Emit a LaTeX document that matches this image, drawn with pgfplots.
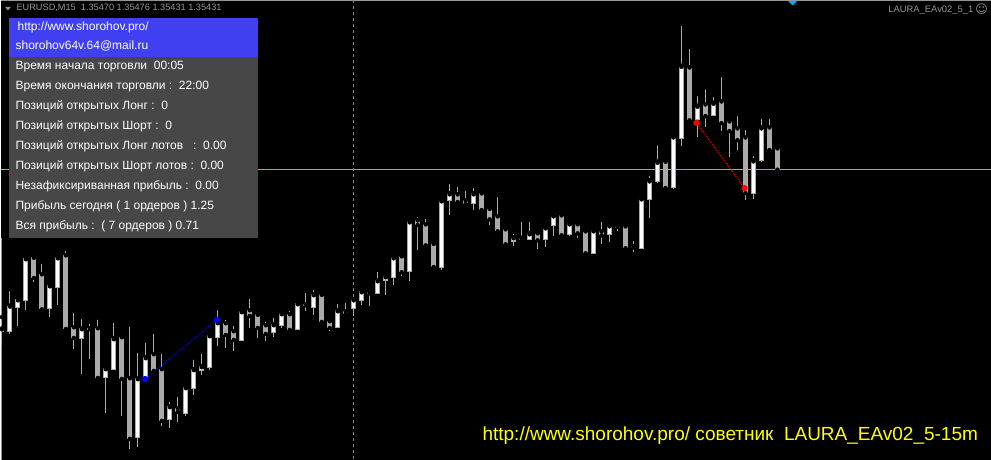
\documentclass[border=0pt]{standalone}
\usepackage{pgfplots}
\pgfplotsset{compat=1.18}
\usepackage{pgfplotstable}
\usepackage{fontspec}
\setmainfont{Liberation Sans}
\newfontfamily\dejavu{DejaVu Sans}
\definecolor{cgray}{RGB}{170,170,170}
\definecolor{panelblue}{RGB}{64,64,240}
\definecolor{panelgray}{RGB}{71,71,71}
\definecolor{bidcyan}{RGB}{40,215,220}
\definecolor{hdrgray}{RGB}{150,150,150}
\definecolor{sepgray}{RGB}{140,140,140}
\definecolor{mtyellow}{RGB}{255,255,0}

% pixel coordinates (y measured from the top)
\pgfplotstableread{
i h l o c
0 317.3 346.7 332 329
1 289.3 334.3 331.3 306.3
2 298 326.7 307.7 300
3 256.7 310 300.7 259
4 258 281.7 258 277.7
5 262 309 275 309
6 286 317.7 308.7 286
7 258 305 287.3 258
8 249 328.7 256 328.7
9 311 349 328 337.7
10 317.3 374 338.7 329
11 322 359.7 329.5 329
12 318 379.7 329 377.7
13 369 413.7 377.3 369
14 321 370.3 369.7 339
15 337 416.7 338 378.7
16 325 449.3 379 438.7
17 351 447.7 437.7 379
18 341 376.7 376.7 358
19 332 371.7 355 370.7
20 352 426.3 370 420.7
21 400 428.7 419.3 407
22 395 422.7 409 411.7
23 384.3 416.7 413.7 388
24 358 395.7 388.7 370
25 352 375.7 370.7 367
26 336 370.7 367.3 336
27 308.3 346.7 337.7 323
28 318 348.7 324 334.7
29 324 351.7 332 339.7
30 312 340.7 340.7 312
31 297 328.7 311 315.7
32 315 338.7 315 327.7
33 320 341.7 326 333.7
34 316 337.7 332.7 325
35 313.3 328.3 325.7 314
36 309 330.7 315 329.7
37 301 329.7 329.7 304
38 291 311.7 305.5 305
39 288 315.7 307.7 295
40 295 324.7 295 321.7
41 321 331.7 322 327.7
42 302 328.7 327.7 311
43 301 314 312 313.7
44 300 316.7 308.3 300
45 287 305.7 300.7 292
46 288 306.7 293.5 293
47 270 294.7 293.7 281
48 274 295.7 280.7 277
49 255 284.7 277.7 258
50 256 275.7 257 272
51 220 280.7 271.7 222
52 215 249.7 221 224.7
53 217 245 225 245
54 244 267.7 244 266.7
55 201 269.7 267.7 201
56 182 214.7 200.7 194
57 185 203.7 195 201.7
58 189 204.7 201 203.7
59 186 209.7 203.7 194
60 192 209.7 194 209.7
61 209 225 209 219
62 195 231 217 231
63 225 246 230 244
64 232 246 242 238
65 220 239 239 238.5
66 220 240 240 234
67 233 249 234 240
68 228 247 240 228
69 216 236 226 216
70 212 235 216 235
71 222 236 235 224
72 222 238 225 233
73 231 255 232 253
74 229 254 254 231
75 220 244 232 235
76 224 242 235 226
77 222 231 227 226.5
78 224 249 227 248
79 239 252 247.5 247
80 199 249 249 199
81 173.7 218 199.3 181
82 143.3 183.3 181.7 162.3
83 159 188.7 162.3 187.7
84 137 189.3 187.3 137
85 24 145.7 138.3 66.3
86 47 120.7 68 120
87 94 136.7 120 106.3
88 87.3 126.7 105 115.7
89 95 115.7 115.7 103.3
90 75 130.7 102 122.7
91 117.7 156.7 122 130.7
92 114 150 129 139.7
93 128 200 138 192.7
94 154 198.7 193.7 161
95 117 161.7 160.7 128
96 117 150 128 149.7
97 146 169.3 149 169.3
}\candles

\begin{document}
\begin{tikzpicture}
\begin{axis}[
  width=991pt, height=460pt, scale only axis,
  xmin=0, xmax=991, ymin=0, ymax=460, y dir=reverse,
  axis lines=none, ticks=none,
  axis background/.style={fill=black},
  clip=true,
]
\fill[black] (axis cs:0,0) rectangle (axis cs:991,460);
\draw[hdrgray, line width=1pt] (axis cs:0,0.5) -- (axis cs:991,0.5);
\draw[hdrgray, line width=1pt] (axis cs:0.5,238) -- (axis cs:0.5,460);

% bid line and period separator
\addplot[bidcyan, line width=1pt, forget plot] coordinates {(0,169.5) (991,169.5)};
\addplot[sepgray, line width=1pt, dash pattern=on 3pt off 3pt, forget plot] coordinates {(353.3,0) (353.3,460)};

% wicks
\addplot[only marks, mark=none, forget plot,
  error bars/.cd, y dir=plus, y explicit, error mark=none,
  error bar style={draw=cgray, line width=1pt}]
  table[x expr=1.3+8*\thisrow{i}, y=h, y error expr=\thisrow{l}-\thisrow{h}] {\candles};
% bodies (outline / bear fill)
\addplot[only marks, mark=none, forget plot,
  error bars/.cd, y dir=plus, y explicit, error mark=none,
  error bar style={draw=cgray, line width=5pt}]
  table[x expr=1.3+8*\thisrow{i}, y expr={min(\thisrow{o},\thisrow{c})-0.5},
        y error expr={max(abs(\thisrow{c}-\thisrow{o}),1)+1}] {\candles};
% bull bodies white inside
\addplot[only marks, mark=none, forget plot,
  error bars/.cd, y dir=plus, y explicit, error mark=none,
  error bar style={draw=white, line width=3pt}]
  table[x expr=1.3+8*\thisrow{i}, y expr={\thisrow{c}+0.5},
        y error expr={max(\thisrow{o}-\thisrow{c}-1,0)}] {\candles};

% trades
\addplot[blue, line width=1pt, dash pattern=on 1pt off 1pt, mark=*, mark size=2.6pt,
  mark options={solid, fill=blue, draw=blue}, forget plot]
  coordinates {(144.3,379.3) (216.3,320)};
\addplot[red, line width=1pt, dash pattern=on 1pt off 1pt, mark=*, mark size=2.6pt,
  mark options={solid, fill=red, draw=red}, forget plot]
  coordinates {(696.3,123) (744.3,188.3)};

% header
\fill[hdrgray] (axis cs:4.5,7) -- (axis cs:10,7) -- (axis cs:7.25,10.5) -- cycle;
\node[anchor=base west, inner sep=0pt, text=hdrgray, font=\fontsize{9.2}{10}\selectfont]
  at (axis cs:15.7,11) {EURUSD,M15\ \ 1.35470 1.35476 1.35431 1.35431};
\fill[cyan] (axis cs:788,1) -- (axis cs:797,1) -- (axis cs:792.5,5.5) -- cycle;
\node[anchor=base east, inner sep=0pt, text=hdrgray, font=\fontsize{9.4}{10}\selectfont]
  at (axis cs:973.5,12.3) {LAURA\_EAv02\_5\_1};
\node[anchor=center, inner sep=0pt, text=hdrgray, font=\dejavu\fontsize{12}{12}\selectfont]
  at (axis cs:981.5,9.5) {☺};

% info panel
\fill[panelgray] (axis cs:8.3,57.3) rectangle (axis cs:257.7,237.7);
\fill[panelblue] (axis cs:8.3,17.7) rectangle (axis cs:257.7,57.3);
\begin{scope}[every node/.style={anchor=base west, inner sep=0pt, text=white, font=\fontsize{12}{14}\selectfont}]
\node at (axis cs:16.7,30.7) {http://www.shorohov.pro/};
\node at (axis cs:14.7,49.7) {shorohov64v.64@mail.ru};
\node at (axis cs:14.7,69.5) {Время начала торговли\ \ 00:05};
\node at (axis cs:14.7,89.5) {Время окончания торговли :\ \ 22:00};
\node at (axis cs:14.7,109.5) {Позиций открытых Лонг :\ \ 0};
\node at (axis cs:14.7,129.5) {Позиций открытых Шорт :\ \ 0};
\node at (axis cs:14.7,149.5) {Позиций открытых Лонг лотов\ \ \ :\ \ 0.00};
\node at (axis cs:14.7,169.5) {Позиций открытых Шорт лотов :\ \ 0.00};
\node at (axis cs:14.7,189.5) {Незафиксириванная прибыль :\ \ 0.00};
\node at (axis cs:14.7,209.5) {Прибыль сегодня ( 1 ордеров ) 1.25};
\node at (axis cs:14.7,229.5) {Вся прибыль :\ \ ( 7 ордеров ) 0.71};
\end{scope}

% footer
\node[anchor=base west, inner sep=0pt, text=mtyellow, font=\fontsize{19}{21}\selectfont]
  at (axis cs:482,441) {http://www.shorohov.pro/ советник\ \ LAURA\_EAv02\_5-15m};
\end{axis}
\end{tikzpicture}
\end{document}
